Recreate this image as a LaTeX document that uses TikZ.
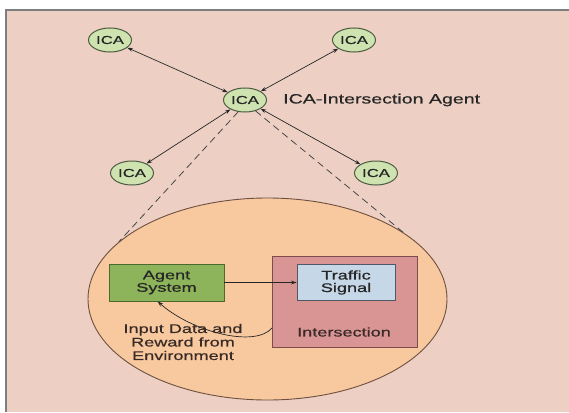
\documentclass[tikz,border=0pt]{standalone}
\usepackage{fontspec}
\setmainfont{Liberation Sans}[FakeStretch=1.45, FakeBold=0.7]
\usetikzlibrary{shapes.geometric,arrows.meta,calc}

\definecolor{bgpink}{HTML}{EDD0C3}
\definecolor{framegray}{HTML}{7E7E7E}
\definecolor{icafill}{HTML}{CFE3B0}
\definecolor{icadraw}{HTML}{4A5A40}
\definecolor{peach}{HTML}{F8C89F}
\definecolor{peachdraw}{HTML}{6E5040}
\definecolor{agentfill}{HTML}{8DB45A}
\definecolor{agentdraw}{HTML}{4A6A30}
\definecolor{interfill}{HTML}{D99494}
\definecolor{interdraw}{HTML}{7E4C4C}
\definecolor{sigfill}{HTML}{C6D7E7}
\definecolor{sigdraw}{HTML}{4E5968}
\definecolor{inkgray}{HTML}{262626}
\definecolor{inkbrown}{HTML}{382A26}

\tikzset{
  ica/.style={ellipse, draw=icadraw, fill=icafill, line width=1pt,
    minimum width=43pt, minimum height=24pt, inner sep=0pt,
    text=inkgray, font=\fontsize{11.5}{12}\selectfont},
  link/.style={draw=inkgray, line width=0.7pt,
    {Stealth[length=5.5pt,width=3.8pt]}-{Stealth[length=5.5pt,width=3.8pt]}},
  zoomline/.style={draw=inkgray!85, line width=0.8pt, dash pattern=on 7pt off 4.5pt},
  boxnode/.style={rectangle, line width=0.9pt, inner sep=0pt, align=center,
    text=inkgray, font=\fontsize{12.5}{12.5}\selectfont},
  flow/.style={draw=inkgray, line width=0.7pt, -{Stealth[length=5.5pt,width=3.8pt]}}
}

\begin{document}
\begin{tikzpicture}[x=1pt, y=-1pt]
  \useasboundingbox (0,0) rectangle (569,412);
  % page and framed backdrop
  \fill[white] (0,0) rectangle (569,412);
  \fill[bgpink] (6,10) rectangle (569,412);
  \draw[framegray, line width=1.3pt] (6,412) -- (6,10) -- (569,10);

  % enlarged view of one intersection
  \node[ellipse, draw=peachdraw, fill=peach, line width=0.9pt,
        minimum width=359pt, minimum height=202pt, inner sep=0pt] (env) at (267.5,299) {};

  % network of intersection agents
  \node[ica] (c)  at (245,100) {ICA};
  \node[ica] (tl) at (110,40)  {ICA};
  \node[ica] (tr) at (354,40)  {ICA};
  \node[ica] (bl) at (132,173) {ICA};
  \node[ica] (br) at (376,173) {ICA};
  \node[anchor=west, text=inkgray, font=\fontsize{13.5}{14}\selectfont, inner sep=0pt]
        (legend) at (283,100) {ICA-Intersection Agent};

  \draw[link] (c) -- (tl);
  \draw[link] (c) -- (tr);
  \draw[link] (c) -- (bl);
  \draw[link] (c) -- (br);

  \draw[zoomline] (c.-120) -- (env.159);
  \draw[zoomline] (c.-46) -- (env.26);

  % agent and environment
  \node[boxnode, draw=interdraw, fill=interfill, minimum width=145pt, minimum height=91pt]
        (inter) at (344.5,301.5) {};
  \node[boxnode, draw=agentdraw, fill=agentfill, minimum width=115pt, minimum height=37pt]
        (agent) at (166.5,282.5) {Agent\\System};
  \node[boxnode, draw=sigdraw, fill=sigfill, minimum width=98pt, minimum height=36pt]
        (signal) at (346,282.5) {Traffic\\Signal};
  \node[text=inkbrown, font=\fontsize{12.5}{13}\selectfont, inner sep=0pt]
        (intername) at (344,332) {Intersection};

  \draw[flow] (agent.east) -- (signal.west);

  \coordinate (fb) at (272,328);
  \draw[flow] (fb) .. controls (255,348) and (192,332) .. (agent.-115);
  \node[align=center, text=inkbrown, font=\fontsize{12.5}{13.5}\selectfont, inner sep=0pt]
        (fbtext) at (183,342) {Input Data and\\Reward from\\Environment};
\end{tikzpicture}
\end{document}
